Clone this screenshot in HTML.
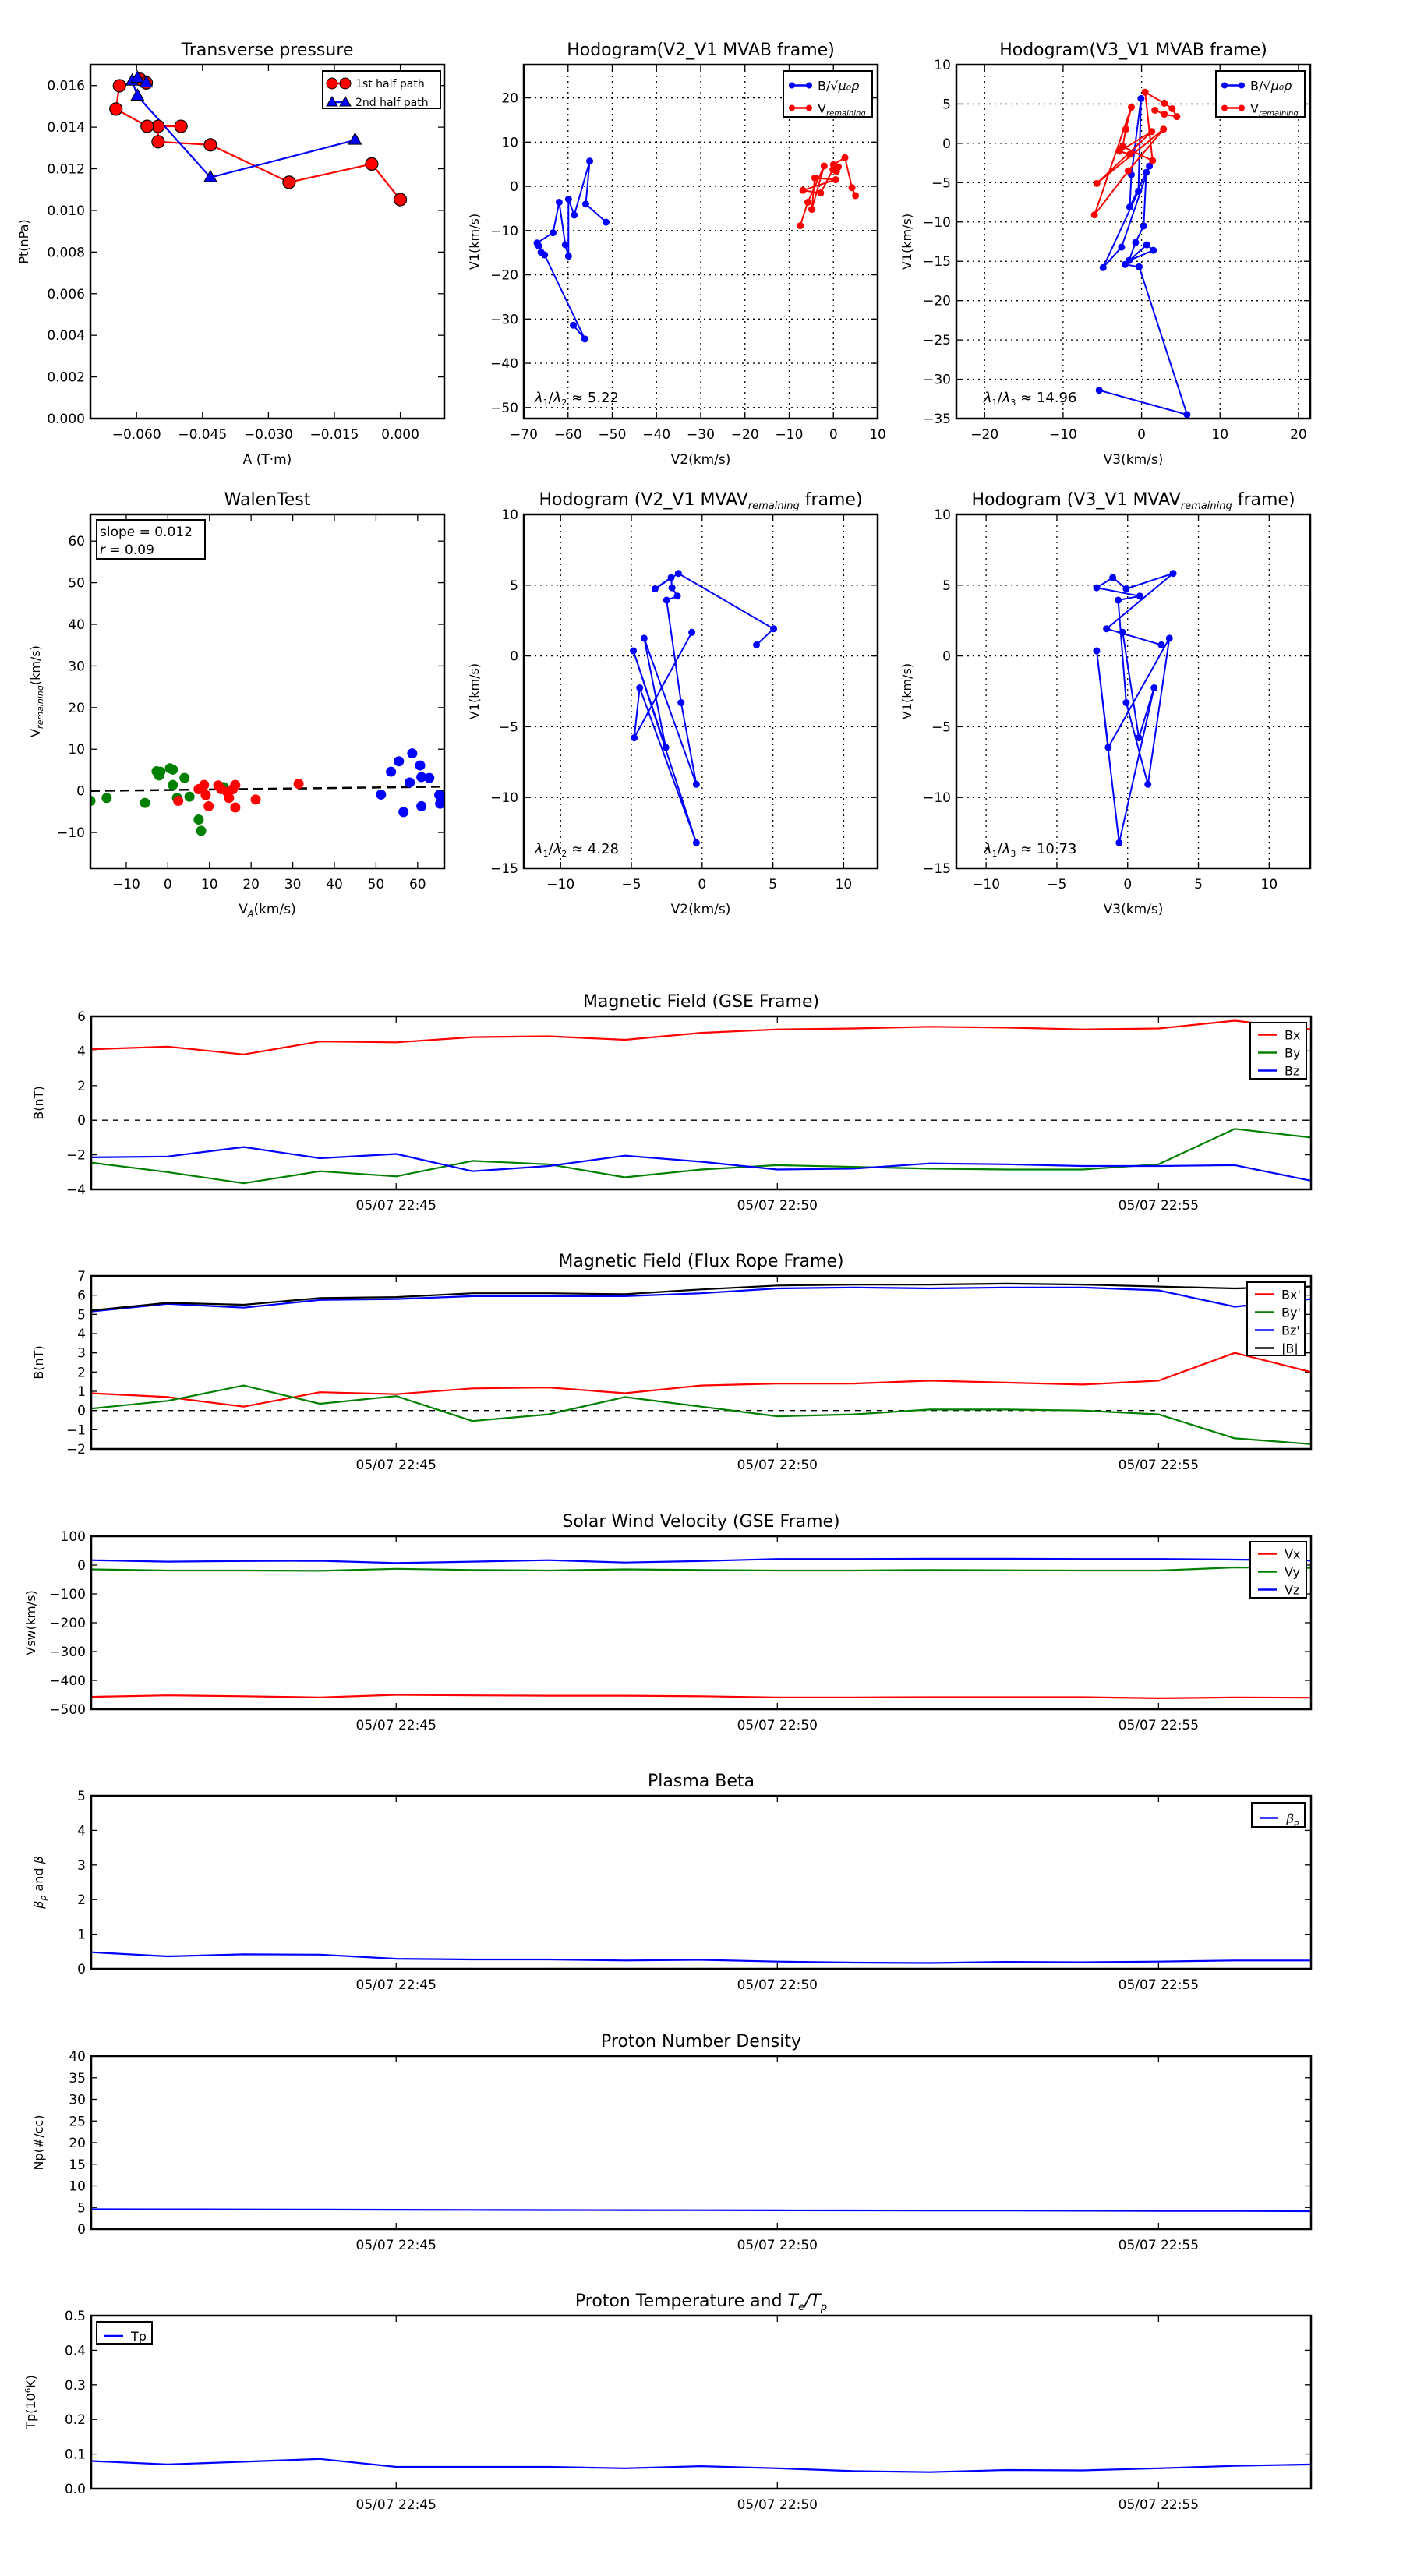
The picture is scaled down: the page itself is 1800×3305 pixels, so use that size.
<!DOCTYPE html>
<html><head><meta charset="utf-8">
<style>
html,body{margin:0;padding:0;background:#fff;}
svg text{font-family:"DejaVu Sans","Liberation Sans",sans-serif;fill:#000;}
</style></head>
<body>
<svg id="fig" xmlns="http://www.w3.org/2000/svg" width="1800" height="3300" viewBox="0 0 1800 3300"></svg>
<script>
// ---------- data ----------
const ptRedA = [0.0, -0.0065, -0.0253, -0.0432, -0.0551, -0.0551, -0.0499, -0.0576, -0.0647, -0.0639, -0.0592, -0.0578];
const ptRedP = [0.01052, 0.01223, 0.01135, 0.01315, 0.0133, 0.01404, 0.01404, 0.01404, 0.01487, 0.01599, 0.0163, 0.01613];
const ptBlueA = [-0.0103, -0.0432, -0.0598, -0.0610, -0.0598, -0.0578];
const ptBlueP = [0.01338, 0.01158, 0.0155, 0.01622, 0.01636, 0.01613];

const h1BlueV2 = [-51.4,-56.0,-55.1,-58.6,-59.9,-59.9,-60.6,-62.0,-63.4,-67.0,-66.6,-66.1,-65.3,-56.2,-58.8];
const h1BlueV1 = [-8.1,-4.0,5.7,-6.5,-2.9,-15.8,-13.2,-3.6,-10.5,-12.8,-13.5,-14.9,-15.5,-34.5,-31.4];
const h1RedV2 = [-7.5,-5.8,-2.1,-4.9,-4.2,0.5,-6.9,-2.9,-0.1,0.7,1.1,0.0,2.6,4.2,5.0];
const h1RedV1 = [-8.9,-3.6,4.6,-5.2,1.9,1.5,-0.9,-1.5,3.8,3.4,4.4,4.9,6.5,-0.3,-2.1];

const h2BlueV3 = [1.0,-2.55,-4.9,-0.4,-0.07,-1.3,-1.5,0.6,0.27,-0.76,-1.6,1.5,0.66,-2.1,-0.3,5.8,-5.4];
const h2BlueV1 = [-2.9,-13.2,-15.8,-6.1,5.7,-4.0,-8.1,-3.7,-10.5,-12.6,-14.9,-13.6,-12.9,-15.4,-15.7,-34.5,-31.4];
const h2RedV3 = [1.7,2.9,4.5,3.9,2.9,0.46,1.4,-2.4,-2.0,-1.3,-6.0,-1.7,2.8,-5.7,1.3,-2.8,-1.5];
const h2RedV1 = [4.2,3.7,3.4,4.4,5.1,6.5,-2.2,-0.4,1.8,4.6,-9.1,-3.5,1.8,-5.1,1.5,-1.0,-1.4];

const walenGreenX = [-18.6,-14.7,-5.5,-2.7,-2.1,-1.8,0.5,1.2,1.2,2.2,4.0,5.2,7.4,8.0,13.4];
const walenGreenY = [-2.4,-1.7,-2.9,4.7,3.7,4.6,5.4,5.1,1.4,-1.7,3.1,-1.4,-6.9,-9.6,0.9];
const walenRedX = [2.5,7.4,8.7,9.1,9.8,12.1,12.8,14.3,14.7,15.6,16.2,16.2,21.1,31.4];
const walenRedY = [-2.4,0.4,1.4,-1.0,-3.7,1.3,0.4,-0.3,-1.7,0.4,1.4,-4.0,-2.1,1.7];
const walenBlueX = [51.2,53.6,55.5,56.6,58.1,58.7,60.6,60.9,60.9,62.8,65.2,65.4,65.8];
const walenBlueY = [-0.9,4.6,7.1,-5.1,2.0,9.0,6.1,3.3,-3.7,3.1,-1.0,-3.1,-1.7];
const walenSlope = 0.012;
const walenIntercept = 0.2;

const remV1 = [0.78,1.92,5.83,4.74,5.54,4.82,4.23,3.94,-3.3,-9.07,1.25,-6.46,0.36,-13.2,-2.25,-5.78,1.67];
const remV2 = [3.84,5.05,-1.68,-3.33,-2.19,-2.13,-1.75,-2.51,-1.49,-0.41,-4.1,-2.57,-4.86,-0.41,-4.41,-4.8,-0.73];
const remV3 = [2.38,-1.49,3.21,-0.1,-1.05,-2.19,0.86,-0.67,-0.1,1.43,2.95,-1.37,-2.19,-0.6,1.87,0.79,-0.35];

const minutes = [0,1,2,3,4,5,6,7,8,9,10,11,12,13,14,15,16]; // minutes after 22:41
const timeTicks = [4,9,14];
const timeTickLabels = ["05/07 22:45","05/07 22:50","05/07 22:55"];
const gseBx = [4.1,4.25,3.8,4.55,4.5,4.8,4.85,4.65,5.05,5.25,5.3,5.4,5.35,5.25,5.3,5.75,5.25];
const gseBy = [-2.45,-3.0,-3.65,-2.95,-3.25,-2.35,-2.55,-3.3,-2.85,-2.6,-2.7,-2.8,-2.85,-2.85,-2.55,-0.5,-1.0];
const gseBz = [-2.15,-2.1,-1.55,-2.2,-1.95,-2.95,-2.65,-2.05,-2.4,-2.85,-2.8,-2.5,-2.55,-2.65,-2.65,-2.6,-3.5];
const frBx = [0.9,0.7,0.2,0.95,0.85,1.15,1.2,0.9,1.3,1.4,1.4,1.55,1.45,1.35,1.55,3.0,2.0];
const frBy = [0.1,0.5,1.3,0.35,0.75,-0.55,-0.2,0.7,0.2,-0.3,-0.2,0.05,0.05,0.0,-0.2,-1.45,-1.75];
const frBz = [5.15,5.55,5.35,5.75,5.8,5.95,5.95,5.95,6.1,6.35,6.4,6.35,6.4,6.4,6.25,5.4,5.8];
const frBt = [5.2,5.6,5.5,5.85,5.9,6.1,6.1,6.05,6.3,6.5,6.55,6.55,6.6,6.55,6.45,6.35,6.45];
const vx = [-457,-452,-455,-459,-450,-452,-453,-453,-455,-459,-459,-458,-458,-458,-462,-459,-460];
const vy = [-15,-19,-19,-20,-13,-17,-19,-15,-17,-19,-19,-17,-18,-19,-19,-8,-10];
const vz = [17,12,14,15,7,12,17,9,14,21,21,22,22,21,21,19,16];
const betaP = [0.48,0.36,0.42,0.41,0.29,0.27,0.27,0.24,0.26,0.21,0.18,0.17,0.2,0.19,0.21,0.24,0.24];
const np = [4.6,4.58,4.55,4.52,4.48,4.45,4.42,4.4,4.38,4.35,4.32,4.3,4.28,4.25,4.22,4.2,4.15];
const tp = [0.08,0.07,0.078,0.086,0.063,0.063,0.063,0.059,0.065,0.059,0.051,0.048,0.054,0.053,0.059,0.066,0.07];

// ---------- helpers ----------
const NS = "http://www.w3.org/2000/svg";
const fig = document.getElementById('fig');
function mk(tag, attrs, parent, txt){
  const e = document.createElementNS(NS, tag);
  for (const k in attrs) e.setAttribute(k, attrs[k]);
  if (txt !== undefined) e.textContent = txt;
  (parent||fig).appendChild(e);
  return e;
}
function axes(name, x0, y0, w, h, xlim, ylim){
  const g = mk('g', {});
  
  
  const sx = v => x0 + (v - xlim[0]) / (xlim[1]-xlim[0]) * w;
  const sy = v => y0 + h - (v - ylim[0]) / (ylim[1]-ylim[0]) * h;
  return {g, sx, sy, x0, y0, w, h};
}
function frame(a){
  const r = mk('rect', {x:a.x0, y:a.y0, width:a.w, height:a.h, fill:'none', stroke:'#000', 'stroke-width':2.5}, a.g);
  
  
}
function xticks(a, vals, labels, grid){
  vals.forEach((v,i)=>{
    const x = a.sx(v);
    if (grid) mk('line',{x1:x,y1:a.y0,x2:x,y2:a.y0+a.h,stroke:'#000','stroke-width':1.3,'stroke-dasharray':'2,5'},a.g);
    mk('line',{x1:x,y1:a.y0+a.h,x2:x,y2:a.y0+a.h-8,stroke:'#000','stroke-width':1.3},a.g);
    mk('line',{x1:x,y1:a.y0,x2:x,y2:a.y0+8,stroke:'#000','stroke-width':1.3},a.g);
    const t = mk('text',{x:x,y:a.y0+a.h+26,'text-anchor':'middle','font-size':17},a.g,labels[i]);
    
    
  });
}
function yticks(a, vals, labels, grid){
  vals.forEach((v,i)=>{
    const y = a.sy(v);
    if (grid) mk('line',{x1:a.x0,y1:y,x2:a.x0+a.w,y2:y,stroke:'#000','stroke-width':1.3,'stroke-dasharray':'2,5'},a.g);
    mk('line',{x1:a.x0,y1:y,x2:a.x0+8,y2:y,stroke:'#000','stroke-width':1.3},a.g);
    mk('line',{x1:a.x0+a.w,y1:y,x2:a.x0+a.w-8,y2:y,stroke:'#000','stroke-width':1.3},a.g);
    const t = mk('text',{x:a.x0-7,y:y+6,'text-anchor':'end','font-size':17},a.g,labels[i]);
    
    
  });
}
function title(a, txt){
  const t = mk('text',{x:a.x0+a.w/2,y:a.y0-12,'text-anchor':'middle','font-size':22},a.g);
  t.innerHTML = txt;
  
  
}
function xlabel(a, txt){
  const t = mk('text',{x:a.x0+a.w/2,y:a.y0+a.h+58,'text-anchor':'middle','font-size':17},a.g);
  t.innerHTML = txt;
  
  
}
function ylabel(a, txt, dx){
  const cx = a.x0 - (dx||70), cy = a.y0 + a.h/2;
  const t = mk('text',{x:cx,y:cy,'text-anchor':'middle','font-size':16,transform:`rotate(-90 ${cx} ${cy})`},a.g);
  t.innerHTML = txt;
  
  
}
function line(a, xs, ys, color, name, w){
  const pts = xs.map((x,i)=>a.sx(x).toFixed(1)+','+a.sy(ys[i]).toFixed(1)).join(' ');
  const p = mk('polyline',{points:pts,fill:'none',stroke:color,'stroke-width':w||2.2,'stroke-linejoin':'round'},a.g);
  
  
}
function dots(a, xs, ys, color, name, r, edge){
  xs.forEach((x,i)=>{
    const c = mk('circle',{cx:a.sx(x),cy:a.sy(ys[i]),r:r,fill:color,stroke:edge||color,'stroke-width':edge?1.2:0},a.g);
    
    
  });
}
function tris(a, xs, ys, color, name, r){
  xs.forEach((x,i)=>{
    const cx=a.sx(x), cy=a.sy(ys[i]);
    const c = mk('polygon',{points:`${cx},${cy-r} ${cx-r*0.9},${cy+r*0.6} ${cx+r*0.9},${cy+r*0.6}`,fill:color,stroke:'#000','stroke-width':1},a.g);
    
    
  });
}
function clip(a, id){
  const cp = mk('clipPath',{id:id});
  mk('rect',{x:a.x0,y:a.y0,width:a.w,height:a.h},cp);
  const g = mk('g',{'clip-path':`url(#${id})`},a.g);
  return g;
}
function legend(a, x, y, w, h, entries, rowh, marker){
  const g = mk('g',{},a.g);
  
  
  mk('rect',{x:x,y:y,width:w,height:h,fill:'#fff',stroke:'#000','stroke-width':2},g);
  entries.forEach((e,i)=>{
    const yy = y + rowh*(i+0.5) + 4;
    const eg = mk('g',{},g);
    
    
    if (marker!=='big') mk('line',{x1:x+10,y1:yy,x2:x+34,y2:yy,stroke:e[1],'stroke-width':2.5},eg);
    else mk('line',{x1:x+8,y1:yy,x2:x+32,y2:yy,stroke:e[1],'stroke-width':2.5},eg);
    if (marker==='circle'){ mk('circle',{cx:x+11,cy:yy,r:4,fill:e[1]},eg); mk('circle',{cx:x+33,cy:yy,r:4,fill:e[1]},eg); }
    if (marker==='big'){ 
      if(i===0){ mk('circle',{cx:x+12,cy:yy,r:7,fill:e[1],stroke:'#000'},eg); mk('circle',{cx:x+29,cy:yy,r:7,fill:e[1],stroke:'#000'},eg);}
      else { mk('polygon',{points:`${x+12},${yy-7} ${x+5},${yy+5} ${x+19},${yy+5}`,fill:e[1],stroke:'#000'},eg); mk('polygon',{points:`${x+29},${yy-7} ${x+22},${yy+5} ${x+36},${yy+5}`,fill:e[1],stroke:'#000'},eg);}
    }
    const t = mk('text',{x:x+(marker==='big'?42:44),y:yy+(marker==='big'?5:6),'font-size':(marker==='big'?14:16)},eg);
    t.innerHTML = e[0];
    
    
  });
}
const range = (a,b,s)=>{const r=[];for(let v=a;v<=b+1e-9;v+=s)r.push(+v.toFixed(6));return r;};
const fmt = (arr,d)=>arr.map(v=>v.toFixed(d).replace('-','\u2212'));

// ---------- Transverse pressure ----------
{
  const a = axes('transverse-pressure-plot',116,83,454,454,[-0.0705,0.0100],[0,0.017]);
  title(a,'Transverse pressure');
  const xt=[-0.060,-0.045,-0.030,-0.015,0.000], yt=range(0,0.016,0.002);
  xticks(a,xt,fmt(xt,3)); yticks(a,yt,fmt(yt,3));
  xlabel(a,'A (T·m)'); ylabel(a,'Pt(nPa)',80);
  line(a,ptRedA,ptRedP,'#ff0000','first-half-path-line');
  line(a,ptBlueA,ptBlueP,'#0000ff','second-half-path-line');
  dots(a,ptRedA,ptRedP,'#ff0000','first-half-point',8,'#000');
  tris(a,ptBlueA,ptBlueP,'#0000ff','second-half-point',9);
  frame(a);
  legend(a,414,91,151,48,[['1st half path','#ff0000'],['2nd half path','#0000ff']],24,'big');
}
// ---------- Hodogram V2_V1 MVAB ----------
{
  const a = axes('hodogram-v2-v1-mvab',672,83,454,454,[-70,10],[-52.5,27.5]);
  title(a,'Hodogram(V2_V1 MVAB frame)');
  const xt=range(-70,10,10), yt=range(-50,20,10);
  xticks(a,xt,fmt(xt,0),true); yticks(a,yt,fmt(yt,0),true);
  xlabel(a,'V2(km/s)'); ylabel(a,'V1(km/s)',58);
  line(a,h1BlueV2,h1BlueV1,'#0000ff','b-hodogram-line',2);
  dots(a,h1BlueV2,h1BlueV1,'#0000ff','b-hodogram-point',4.5);
  line(a,h1RedV2,h1RedV1,'#ff0000','v-remaining-hodogram-line',2);
  dots(a,h1RedV2,h1RedV1,'#ff0000','v-remaining-hodogram-point',4.5);
  frame(a);
  legend(a,1005,91,114,59,[['B/√<tspan font-style="italic">μ₀ρ</tspan>','#0000ff'],['V<tspan font-size="10" dy="4" font-style="italic">remaining</tspan>','#ff0000']],29,'circle');
  const t=mk('text',{x:686,y:516,'font-size':18},a.g); t.innerHTML='<tspan font-style="italic">λ</tspan><tspan font-size="11" dy="4">1</tspan><tspan dy="-4">/</tspan><tspan font-style="italic">λ</tspan><tspan font-size="11" dy="4">2</tspan><tspan dy="-4"> ≈ 5.22</tspan>';
   
}
// ---------- Hodogram V3_V1 MVAB ----------
{
  const a = axes('hodogram-v3-v1-mvab',1227,83,454,454,[-23.6,21.5],[-35,10]);
  title(a,'Hodogram(V3_V1 MVAB frame)');
  const xt=range(-20,20,10), yt=range(-35,10,5);
  xticks(a,xt,fmt(xt,0),true); yticks(a,yt,fmt(yt,0),true);
  xlabel(a,'V3(km/s)'); ylabel(a,'V1(km/s)',58);
  line(a,h2BlueV3,h2BlueV1,'#0000ff','b-hodogram-line',2);
  dots(a,h2BlueV3,h2BlueV1,'#0000ff','b-hodogram-point',4.5);
  line(a,h2RedV3,h2RedV1,'#ff0000','v-remaining-hodogram-line',2);
  dots(a,h2RedV3,h2RedV1,'#ff0000','v-remaining-hodogram-point',4.5);
  frame(a);
  legend(a,1560,91,114,59,[['B/√<tspan font-style="italic">μ₀ρ</tspan>','#0000ff'],['V<tspan font-size="10" dy="4" font-style="italic">remaining</tspan>','#ff0000']],29,'circle');
  const t=mk('text',{x:1262,y:516,'font-size':18},a.g); t.innerHTML='<tspan font-style="italic">λ</tspan><tspan font-size="11" dy="4">1</tspan><tspan dy="-4">/</tspan><tspan font-style="italic">λ</tspan><tspan font-size="11" dy="4">3</tspan><tspan dy="-4"> ≈ 14.96</tspan>';
   
}
// ---------- Walen test ----------
{
  const a = axes('walen-test-plot',116,660,454,454,[-18.6,66.4],[-18.6,66.4]);
  title(a,'WalenTest');
  const xt=range(-10,60,10), yt=range(-10,60,10);
  xticks(a,xt,fmt(xt,0)); yticks(a,yt,fmt(yt,0));
  xlabel(a,'V<tspan font-size="11" dy="4" font-style="italic">A</tspan><tspan dy="-4">(km/s)</tspan>');
  ylabel(a,'V<tspan font-size="11" dy="4" font-style="italic">remaining</tspan><tspan dy="-4">(km/s)</tspan>',65);
  const g = clip(a,'walenclip');
  const fx=[-18.6,66.4];
  const l = mk('line',{x1:a.sx(fx[0]),y1:a.sy(walenSlope*fx[0]+walenIntercept),x2:a.sx(fx[1]),y2:a.sy(walenSlope*fx[1]+walenIntercept),stroke:'#000','stroke-width':2.5,'stroke-dasharray':'12,7'},g);
   
  const sub={g:g,sx:a.sx,sy:a.sy};
  dots(sub,walenGreenX,walenGreenY,'#008000','walen-point-green',6.5);
  dots(sub,walenRedX,walenRedY,'#ff0000','walen-point-red',6.5);
  dots(sub,walenBlueX,walenBlueY,'#0000ff','walen-point-blue',6.5);
  frame(a);
  const bg = mk('g',{},a.g);  
  mk('rect',{x:124,y:667,width:139,height:50,fill:'#fff',stroke:'#000','stroke-width':2},bg);
  mk('text',{x:128,y:688,'font-size':17},bg,'slope = 0.012');
  const t=mk('text',{x:128,y:711,'font-size':17},bg); t.innerHTML='<tspan font-style="italic">r</tspan> = 0.09';
}
// ---------- Hodogram remaining V2 ----------
{
  const a = axes('hodogram-v2-v1-mvav',672,660,454,454,[-12.6,12.4],[-15,10]);
  title(a,'Hodogram (V2_V1 MVAV<tspan font-size="13" dy="5" font-style="italic">remaining</tspan><tspan dy="-5"> frame)</tspan>');
  const xt=range(-10,10,5), yt=range(-15,10,5);
  xticks(a,xt,fmt(xt,0),true); yticks(a,yt,fmt(yt,0),true);
  xlabel(a,'V2(km/s)'); ylabel(a,'V1(km/s)',58);
  line(a,remV2,remV1,'#0000ff','remaining-hodogram-line',2);
  dots(a,remV2,remV1,'#0000ff','remaining-hodogram-point',4.5);
  frame(a);
  const t=mk('text',{x:686,y:1095,'font-size':18},a.g); t.innerHTML='<tspan font-style="italic">λ</tspan><tspan font-size="11" dy="4">1</tspan><tspan dy="-4">/</tspan><tspan font-style="italic">λ</tspan><tspan font-size="11" dy="4">2</tspan><tspan dy="-4"> ≈ 4.28</tspan>';
   
}
// ---------- Hodogram remaining V3 ----------
{
  const a = axes('hodogram-v3-v1-mvav',1227,660,454,454,[-12.1,12.9],[-15,10]);
  title(a,'Hodogram (V3_V1 MVAV<tspan font-size="13" dy="5" font-style="italic">remaining</tspan><tspan dy="-5"> frame)</tspan>');
  const xt=range(-10,10,5), yt=range(-15,10,5);
  xticks(a,xt,fmt(xt,0),true); yticks(a,yt,fmt(yt,0),true);
  xlabel(a,'V3(km/s)'); ylabel(a,'V1(km/s)',58);
  line(a,remV3,remV1,'#0000ff','remaining-hodogram-line',2);
  dots(a,remV3,remV1,'#0000ff','remaining-hodogram-point',4.5);
  frame(a);
  const t=mk('text',{x:1262,y:1095,'font-size':18},a.g); t.innerHTML='<tspan font-style="italic">λ</tspan><tspan font-size="11" dy="4">1</tspan><tspan dy="-4">/</tspan><tspan font-style="italic">λ</tspan><tspan font-size="11" dy="4">3</tspan><tspan dy="-4"> ≈ 10.73</tspan>';
   
}
// ---------- time series ----------
function tpanel(name, top, ylim, yt, ydec, ttl, ylab, series, leg, zero, ylabDx){
  const a = axes(name,117,top,1565,222,[0,16],ylim);
  title(a, ttl);
  xticks(a,timeTicks,timeTickLabels); yticks(a,yt,fmt(yt,ydec));
  ylabel(a,ylab,ylabDx||62);
  const g = clip(a, name+'-clip');
  const sub={g:g,sx:a.sx,sy:a.sy};
  if (zero){ const z=mk('line',{x1:a.x0,y1:a.sy(0),x2:a.x0+a.w,y2:a.sy(0),stroke:'#000','stroke-width':1.3,'stroke-dasharray':'7,7'},g);   }
  series.forEach(s=>line(sub,minutes,s[0],s[1],s[2]));
  frame(a);
  if (leg) legend(a,leg[0],leg[1],leg[2],leg[3],series.map(s=>[s[3],s[1]]),leg[4]);
}
tpanel('gse-field-panel',1304,[-4,6],range(-4,6,2),0,'Magnetic Field (GSE Frame)','B(nT)',
  [[gseBx,'#ff0000','bx-line','Bx'],[gseBy,'#008000','by-line','By'],[gseBz,'#0000ff','bz-line','Bz']],[1604,1312,72,72,23],true);
tpanel('flux-rope-field-panel',1637,[-2,7],range(-2,7,1),0,'Magnetic Field (Flux Rope Frame)','B(nT)',
  [[frBx,'#ff0000','bx-prime-line',"Bx'"],[frBy,'#008000','by-prime-line',"By'"],[frBz,'#0000ff','bz-prime-line',"Bz'"],[frBt,'#000000','b-total-line','|B|']],[1600,1645,74,94,23],true);
tpanel('velocity-panel',1971,[-500,100],range(-500,100,100),0,'Solar Wind Velocity (GSE Frame)','Vsw(km/s)',
  [[vx,'#ff0000','vx-line','Vx'],[vy,'#008000','vy-line','Vy'],[vz,'#0000ff','vz-line','Vz']],[1604,1978,72,72,23],false,72);
tpanel('plasma-beta-panel',2304,[0,5],range(0,5,1),0,'Plasma Beta','<tspan font-style="italic">β<tspan font-size="11" dy="4">p</tspan></tspan><tspan dy="-4"> and </tspan><tspan font-style="italic">β</tspan>',
  [[betaP,'#0000ff','beta-p-line','<tspan font-style="italic">β<tspan font-size="10" dy="3">p</tspan></tspan>']],[1606,2313,68,31,31],false);
tpanel('proton-density-panel',2638,[0,40],range(0,40,5),0,'Proton Number Density','Np(#/cc)',
  [[np,'#0000ff','np-line','Np']],null,false);
tpanel('proton-temperature-panel',2971,[0,0.5],range(0,0.5,0.1),1,'Proton Temperature and <tspan font-style="italic">T<tspan font-size="13" dy="5">e</tspan><tspan dy="-5">/T</tspan><tspan font-size="13" dy="5">p</tspan></tspan>','Tp(10<tspan font-size="10" dy="-6">6</tspan><tspan dy="6">K)</tspan>',
  [[tp,'#0000ff','tp-line','Tp']],[124,2979,71,28,28],false,72);
</script>
</body></html>
